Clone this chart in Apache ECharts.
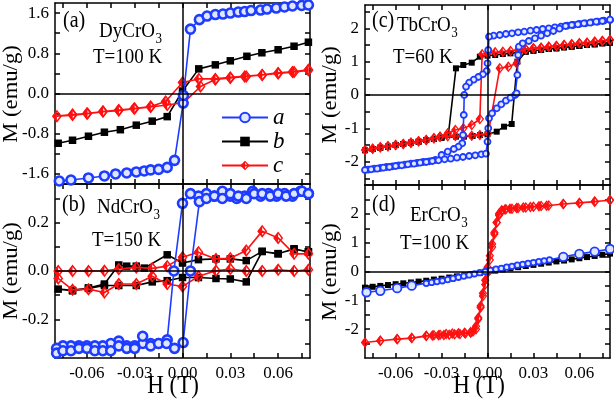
<!DOCTYPE html>
<html><head><meta charset="utf-8">
<script src="https://cdn.jsdelivr.net/npm/echarts@6/dist/echarts.min.js"></script>
<style>html,body{margin:0;padding:0;background:#fff}#c{width:614px;height:401px}</style>
</head><body><div id="c"></div><script>
// ---------------- data (H in T, M in emu/g) ----------------
// Panel (a) DyCrO3, T=100 K
const dyA = [[-0.0773,-1.74],[-0.070,-1.72],[-0.059,-1.68],[-0.049,-1.64],[-0.042,-1.60],[-0.035,-1.58],[-0.029,-1.56],[-0.024,-1.54],[-0.020,-1.52],[-0.015,-1.51],[-0.0096,-1.47],[-0.005,-1.33],[0.0004,-0.19],[0.0006,-0.04],[0.005,1.28],[0.0106,1.47],[0.0154,1.54],[0.0206,1.57],[0.0254,1.58],[0.030,1.60],[0.035,1.62],[0.039,1.63],[0.043,1.65],[0.049,1.66],[0.053,1.68],[0.0588,1.70],[0.064,1.72],[0.069,1.74],[0.0748,1.75],[0.079,1.76]];
const dyB = [[-0.078,-0.99],[-0.069,-0.93],[-0.059,-0.85],[-0.049,-0.77],[-0.039,-0.72],[-0.029,-0.63],[-0.019,-0.55],[-0.0096,-0.46],[0.0,0.05],[0.0102,0.49],[0.0206,0.57],[0.030,0.65],[0.0404,0.74],[0.0498,0.81],[0.060,0.87],[0.070,0.94],[0.079,1.02]];
const dyC = [[0.079,0.47],[0.069,0.43],[0.060,0.41],[0.050,0.37],[0.039,0.34],[0.030,0.32],[0.0206,0.29],[0.0102,0.29],[0.0,0.22],[-0.0106,-0.16],[-0.020,-0.26],[-0.0304,-0.30],[-0.040,-0.34],[-0.0498,-0.36],[-0.0596,-0.40],[-0.069,-0.43],[-0.0788,-0.45],
  [-0.069,-0.42],[-0.060,-0.40],[-0.050,-0.36],[-0.040,-0.33],[-0.030,-0.30],[-0.020,-0.27],[-0.0096,-0.23],[0.0008,-0.18],[0.0113,0.14],[0.0206,0.28],[0.030,0.31],[0.040,0.34],[0.050,0.37],[0.060,0.40],[0.070,0.43],[0.079,0.46]];
// Panel (b) NdCrO3, T=150 K
const ndA = [[0.079,0.32],[0.074,0.33],[0.069,0.31],[0.064,0.32],[0.059,0.31],[0.054,0.32],[0.049,0.31],[0.044,0.33],[0.039,0.31],[0.034,0.30],[0.030,0.31],[0.025,0.33],[0.020,0.31],[0.015,0.32],[0.010,0.31],[0.005,0.32],[0.0,0.28],[-0.0054,0.0],[-0.0096,-0.285],[-0.015,-0.30],[-0.020,-0.30],[-0.025,-0.30],[-0.030,-0.31],[-0.035,-0.31],[-0.040,-0.29],[-0.045,-0.30],[-0.050,-0.31],[-0.055,-0.31],[-0.060,-0.31],[-0.065,-0.31],[-0.070,-0.31],[-0.075,-0.31],[-0.079,-0.32],
  [-0.079,-0.34],[-0.075,-0.33],[-0.070,-0.33],[-0.065,-0.32],[-0.060,-0.32],[-0.055,-0.33],[-0.050,-0.33],[-0.045,-0.33],[-0.040,-0.31],[-0.035,-0.32],[-0.030,-0.32],[-0.025,-0.27],[-0.020,-0.31],[-0.015,-0.30],[-0.010,-0.30],[-0.005,-0.32],[0.0004,-0.296],[0.005,0.0],[0.0106,0.287],[0.015,0.30],[0.020,0.31],[0.025,0.30],[0.030,0.32],[0.035,0.31],[0.040,0.30],[0.045,0.32],[0.050,0.32],[0.055,0.31],[0.060,0.32],[0.065,0.31],[0.070,0.32],[0.075,0.33],[0.079,0.32]];
const ndB = [[0.079,0.078],[0.070,0.092],[0.060,0.071],[0.050,0.081],[0.040,0.043],[0.030,0.05],[0.021,0.05],[0.010,0.047],[0.0,0.033],[-0.0096,0.067],[-0.024,0.012],[-0.029,0.02],[-0.035,0.02],[-0.040,0.025],[-0.049,-0.054],[-0.059,-0.07],[-0.069,-0.08],[-0.078,-0.075],
  [-0.069,-0.082],[-0.059,-0.072],[-0.049,-0.06],[-0.040,-0.06],[-0.029,-0.06],[-0.019,-0.045],[-0.0096,-0.04],[0.0,-0.027],[0.010,-0.027],[0.021,-0.031],[0.030,-0.033],[0.040,-0.045],[0.050,0.081],[0.060,0.072],[0.070,0.09],[0.079,0.08]];
const ndC = [[0.079,0.071],[0.070,0.071],[0.060,0.137],[0.050,0.165],[0.040,0.085],[0.030,0.053],[0.021,0.05],[0.010,0.078],[0.0,0.057],[-0.0096,0.02],[-0.019,0.011],[-0.029,0.015],[-0.040,0.008],[-0.049,0.001],[-0.059,0.0],[-0.069,0.0],[-0.078,0.0],
  [-0.078,-0.031],[-0.069,-0.078],[-0.059,-0.075],[-0.049,-0.089],[-0.040,-0.054],[-0.029,-0.054],[-0.019,-0.022],[-0.0096,-0.054],[0.0,-0.064],[0.010,-0.022],[0.021,0.001],[0.030,0.008],[0.040,0.0],[0.050,0.0],[0.060,0.005],[0.070,0.0],[0.079,0.005]];
// Panel (c) TbCrO3, T=60 K
const tbA = [[0.080,2.25],[0.076,2.23],[0.072,2.20],[0.068,2.18],[0.064,2.15],[0.060,2.13],[0.056,2.10],[0.052,2.08],[0.048,2.05],[0.044,2.03],[0.040,2.00],[0.036,1.98],[0.032,1.95],[0.028,1.93],[0.024,1.90],[0.020,1.88],[0.016,1.85],[0.012,1.83],[0.008,1.80],[0.004,1.78],[0.001,1.75],
  [0.0005,1.35],[0.0,0.95],[-0.0005,0.72],[-0.003,0.62],[-0.006,0.54],[-0.009,0.46],[-0.012,0.37],[-0.014,0.25],[-0.0152,0.0],[-0.0155,-0.6],[-0.016,-1.2],[-0.0165,-1.45],[-0.019,-1.55],[-0.022,-1.62],[-0.026,-1.70],[-0.030,-1.80],[-0.034,-1.95],
  [-0.038,-1.99],[-0.042,-2.01],[-0.046,-2.04],[-0.050,-2.06],[-0.054,-2.09],[-0.058,-2.11],[-0.062,-2.14],[-0.066,-2.16],[-0.070,-2.19],[-0.074,-2.21],[-0.078,-2.24],[-0.080,-2.25],
  [-0.076,-2.23],[-0.072,-2.21],[-0.068,-2.18],[-0.064,-2.16],[-0.060,-2.13],[-0.056,-2.11],[-0.052,-2.08],[-0.048,-2.06],[-0.044,-2.03],[-0.040,-2.01],[-0.036,-1.98],[-0.032,-1.96],[-0.028,-1.93],[-0.024,-1.91],[-0.020,-1.88],[-0.016,-1.86],[-0.012,-1.83],[-0.008,-1.81],[-0.004,-1.78],[-0.001,-1.76],
  [0.0,-1.4],[0.0005,-1.0],[0.001,-0.7],[0.003,-0.55],[0.006,-0.4],[0.009,-0.28],[0.012,-0.17],[0.015,-0.08],[0.018,0.0],[0.019,0.05],[0.0195,0.6],[0.020,1.2],[0.0205,1.45],[0.023,1.55],[0.027,1.62],[0.031,1.70],[0.035,1.78],[0.039,1.85],[0.043,1.92],[0.047,1.99],[0.051,2.07],[0.055,2.10],[0.059,2.12],[0.063,2.15],[0.067,2.17],[0.071,2.20],[0.075,2.22],[0.080,2.26]];
const tbB = [[0.080,1.57],[0.075,1.55],[0.070,1.52],[0.065,1.50],[0.060,1.47],[0.055,1.45],[0.050,1.43],[0.045,1.40],[0.040,1.38],[0.035,1.35],[0.030,1.33],[0.025,1.30],[0.020,1.28],[0.015,1.25],[0.010,1.23],[0.005,1.20],[0.0,1.18],[-0.005,1.15],[-0.0103,0.97],[-0.0158,0.9],[-0.0206,0.8],[-0.0256,-1.2],[-0.030,-1.28],[-0.035,-1.32],[-0.040,-1.35],[-0.045,-1.40],[-0.050,-1.43],[-0.055,-1.47],[-0.060,-1.50],[-0.065,-1.55],[-0.070,-1.58],[-0.075,-1.62],[-0.080,-1.66],
  [-0.075,-1.62],[-0.070,-1.58],[-0.065,-1.55],[-0.060,-1.50],[-0.055,-1.47],[-0.050,-1.43],[-0.045,-1.40],[-0.040,-1.35],[-0.035,-1.32],[-0.030,-1.28],[-0.0206,-1.25],[-0.0154,-1.25],[-0.0097,-1.23],[-0.0049,-1.2],[0.0,-1.18],[0.006,-1.1],[0.0108,-0.95],[0.0158,-0.87],[0.0195,1.0],[0.025,1.3],[0.030,1.33],[0.035,1.35],[0.040,1.38],[0.045,1.40],[0.050,1.43],[0.055,1.45],[0.060,1.47],[0.065,1.50],[0.070,1.52],[0.075,1.55],[0.080,1.57]];
const tbC = [[0.080,1.65],[0.075,1.62],[0.070,1.60],[0.065,1.57],[0.060,1.55],[0.055,1.52],[0.050,1.50],[0.045,1.47],[0.040,1.45],[0.035,1.42],[0.030,1.40],[0.025,1.37],[0.020,1.35],[0.015,1.32],[0.010,1.30],[0.005,1.28],[0.0,1.25],[-0.0035,1.22],[-0.005,-0.72],[-0.0103,-0.9],[-0.0158,-1.0],[-0.021,-1.05],[-0.026,-1.15],[-0.031,-1.25],[-0.035,-1.30],[-0.040,-1.35],[-0.045,-1.39],[-0.050,-1.43],[-0.055,-1.47],[-0.060,-1.50],[-0.065,-1.54],[-0.070,-1.57],[-0.075,-1.61],[-0.080,-1.65],
  [-0.075,-1.61],[-0.070,-1.57],[-0.065,-1.54],[-0.060,-1.50],[-0.055,-1.47],[-0.050,-1.43],[-0.045,-1.39],[-0.040,-1.35],[-0.035,-1.30],[-0.031,-1.25],[-0.026,-1.24],[-0.021,-1.23],[-0.0158,-1.23],[-0.0103,-1.22],[-0.005,-1.2],[0.0005,-1.15],[0.008,0.8],[0.0136,0.85],[0.019,0.95],[0.021,1.3],[0.025,1.37],[0.030,1.40],[0.035,1.42],[0.040,1.45],[0.045,1.47],[0.050,1.50],[0.055,1.52],[0.060,1.55],[0.065,1.57],[0.070,1.60],[0.075,1.62],[0.080,1.65]];
// Panel (d) ErCrO3, T=100 K
const erA = [[-0.079,-0.72],[-0.070,-0.67],[-0.059,-0.58],[-0.0495,-0.49],[-0.040,-0.41],[-0.0365,-0.38],[-0.033,-0.35],[-0.0295,-0.32],[-0.026,-0.28],[-0.0225,-0.24],[-0.019,-0.20],[-0.0155,-0.16],[-0.012,-0.12],[-0.0085,-0.08],[-0.005,-0.04],[-0.0015,0.0],[0.002,0.04],[0.0055,0.08],[0.009,0.11],[0.0125,0.15],[0.016,0.18],[0.0195,0.22],[0.023,0.25],[0.0265,0.28],[0.030,0.31],[0.0335,0.34],[0.037,0.37],[0.0405,0.40],[0.0495,0.51],[0.060,0.61],[0.070,0.69],[0.080,0.78]];
const erB = [[-0.080,-0.56],[-0.075,-0.53],[-0.070,-0.50],[-0.065,-0.47],[-0.060,-0.44],[-0.055,-0.41],[-0.050,-0.38],[-0.045,-0.35],[-0.040,-0.32],[-0.035,-0.28],[-0.030,-0.25],[-0.025,-0.21],[-0.020,-0.17],[-0.015,-0.13],[-0.010,-0.09],[-0.005,-0.05],[0.0,-0.01],[0.005,0.03],[0.010,0.07],[0.015,0.11],[0.020,0.15],[0.025,0.19],[0.030,0.23],[0.035,0.27],[0.040,0.31],[0.045,0.35],[0.050,0.38],[0.055,0.42],[0.060,0.46],[0.065,0.50],[0.070,0.54],[0.075,0.58],[0.080,0.62]];
const erC = [[0.080,2.48],[0.070,2.42],[0.060,2.38],[0.0495,2.34],[0.0386,2.28],[0.0336,2.26],[0.028,2.24],[0.0234,2.22],[0.019,2.20],[0.0147,2.18],[0.0114,2.15],[0.0093,2.12],[0.0075,2.0],[0.006,1.7],[0.0045,1.35],[0.003,0.95],[0.0015,0.55],[0.0,0.15],[-0.0015,-0.3],[-0.003,-0.75],[-0.0045,-1.2],[-0.006,-1.6],[-0.0075,-1.9],[-0.0095,-2.08],[-0.011,-2.12],[-0.0145,-2.15],[-0.018,-2.17],[-0.0215,-2.18],[-0.025,-2.19],[-0.0285,-2.2],[-0.032,-2.21],[-0.036,-2.22],[-0.040,-2.23],[-0.0495,-2.31],[-0.059,-2.34],[-0.070,-2.40],[-0.080,-2.46],
  [-0.070,-2.40],[-0.059,-2.35],[-0.0495,-2.31],[-0.040,-2.24],[-0.035,-2.21],[-0.031,-2.19],[-0.027,-2.17],[-0.023,-2.15],[-0.019,-2.14],[-0.015,-2.12],[-0.011,-2.10],[-0.0075,-2.0],[-0.006,-1.65],[-0.0045,-1.25],[-0.003,-0.85],[-0.0015,-0.45],[0.0,-0.05],[0.0015,0.4],[0.003,0.85],[0.0045,1.3],[0.006,1.7],[0.0075,1.95],[0.0095,2.1],[0.012,2.16],[0.016,2.18],[0.020,2.20],[0.025,2.22],[0.030,2.25],[0.035,2.27],[0.040,2.29],[0.0495,2.34],[0.060,2.38],[0.070,2.43],[0.080,2.47]];

// ---------------- ticks and labels ----------------
const xTicks = [-0.075,-0.06,-0.045,-0.03,-0.015,0,0.015,0.03,0.045,0.06,0.075];
const xLabels = [-0.06,-0.03,0,0.03,0.06];
const yTicksA = [-1.6,-1.2,-0.8,-0.4,0,0.4,0.8,1.2,1.6];
const yLabelsA = [-1.6,-0.8,0,0.8,1.6];
const yTicksB = [-0.3,-0.2,-0.1,0,0.1,0.2,0.3];
const yLabelsB = [-0.2,0,0.2];
const yTicksCD = [-2.5,-2,-1.5,-1,-0.5,0,0.5,1,1.5,2,2.5];
const yLabelsCD = [-2,-1,0,1,2];
const seriesNames = ['a','b','c'];
const compounds = ['DyCrO','NdCrO','TbCrO','ErCrO'];
const temps = ['T=100 K','T=150 K','T=60 K','T=100 K'];
const panelTags = ['(a)','(b)','(c)','(d)'];

// ---------------- layout ----------------
const FONT = '"Liberation Serif","Times New Roman",serif';
const grids = [
  {left:55, top:3, width:255, height:181},
  {left:55, top:184, width:255, height:174},
  {left:365, top:5, width:245, height:180},
  {left:365, top:185, width:245, height:173}
];
const yRanges = [[-1.8,1.8],[-0.36,0.36],[-2.7,2.7],[-3,3]];
const yTickSets = [yTicksA, yTicksB, yTicksCD, yTicksCD];
const yLabelSets = [yLabelsA, yLabelsB, yLabelsCD, yLabelsCD];
const yFmt = [v=>v.toFixed(1), v=>v.toFixed(1), v=>String(Math.round(v)), v=>String(Math.round(v))];

const line = {show:true, onZero:false, lineStyle:{color:'#000', width:1.5}};
function tick(vals){ return {show:true, inside:true, length:5, customValues:vals, lineStyle:{color:'#000', width:1.5}}; }

const xAxis = [], yAxis = [];
grids.forEach((g,i)=>{
  const showX = (i===1||i===3);
  xAxis.push({type:'value', gridIndex:i, position:'bottom', min:-0.08, max:0.08, axisLine:line, axisTick:tick(xTicks), splitLine:{show:false},
    axisLabel:{show:showX, customValues:xLabels, formatter:v=>v.toFixed(2), fontFamily:FONT, fontSize:17, color:'#000', margin:7}});
  yAxis.push({type:'value', gridIndex:i, position:'left', min:yRanges[i][0], max:yRanges[i][1], axisLine:line, axisTick:tick(yTickSets[i]), splitLine:{show:false},
    axisLabel:{show:true, customValues:yLabelSets[i], formatter:yFmt[i], fontFamily:FONT, fontSize:17, color:'#000', margin:6}});
});
grids.forEach((g,i)=>{
  xAxis.push({type:'value', gridIndex:i, position:'top', min:-0.08, max:0.08, axisLine:line, axisTick:tick(xTicks), axisLabel:{show:false}, splitLine:{show:false}});
  yAxis.push({type:'value', gridIndex:i, position:'right', min:yRanges[i][0], max:yRanges[i][1], axisLine:line, axisTick:tick(yTickSets[i]), axisLabel:{show:false}, splitLine:{show:false}});
});

const BLUE = '#1e3cff', RED = '#ff1010';
const diamondPath = 'path://M5 0L10 6L5 12L0 6ZM5 2.2L1.8 6L5 9.8L8.2 6ZM5 2.2L5 9.8L1.8 6Z';
function mk(){
  return {silent:true, symbol:['none','none'], label:{show:false}, animation:false,
    lineStyle:{color:'#000', width:1.5, type:'solid'}, emphasis:{disabled:true}, data:[{yAxis:0},{xAxis:0}]};
}
const panelData = [[dyA,dyB,dyC],[ndA,ndB,ndC],[tbA,tbB,tbC],[erA,erB,erC]];
const series = [];
panelData.forEach((pd,i)=>{
  const small = i>=2;
  series.push({name:'b', type:'line', xAxisIndex:i, yAxisIndex:i, data:pd[1], symbol:'rect', symbolSize: small?6:7.5,
    itemStyle:{color:'#000'}, lineStyle:{color:'#000', width:1.6}, markLine:mk(), emphasis:{disabled:true}, z:2});
  series.push({name:'c', type:'line', xAxisIndex:i, yAxisIndex:i, data:pd[2], symbol:diamondPath, symbolSize: small?[8.5,11]:[10,13],
    itemStyle:{color:RED}, lineStyle:{color:RED, width:1.6}, emphasis:{disabled:true}, z:3});
  series.push({name:'a', type:'line', xAxisIndex:i, yAxisIndex:i, data:pd[0], symbol:'circle',
    symbolSize: i===3 ? (v=>Math.abs(v[0])>0.042?8.5:5.5) : (small?6:9),
    itemStyle:{color:'#dfe6ff', borderColor:BLUE, borderWidth: small?1.8:2.6}, lineStyle:{color:BLUE, width:1.6}, emphasis:{disabled:true}, z:4});
});

// measure text width so the subscript follows the formula
const mctx = document.createElement('canvas').getContext('2d');
function tw(s, size){ mctx.font = size+'px '+FONT; return mctx.measureText(s).width; }

const SY = 1.15; // reference text is slightly taller than wide
function txt(x,y,s,size){
  return {type:'text', x:x, y:y, scaleY:SY, silent:true, z:100,
    style:{text:s, font: size+'px '+FONT, fill:'#000', align:'left', verticalAlign:'middle', textAlign:'left', textVerticalAlign:'middle'}};
}
const tagPos = [[63,21],[62,205],[372,21],[372,205]];
const cmpPos = [[99,31],[97,207],[397,25],[410,215]];
const tPos = [[93,57],[92,240],[393,57],[400,243]];
const graphic = [];
for (let i=0;i<4;i++){
  graphic.push(txt(tagPos[i][0], tagPos[i][1], panelTags[i], 20));
  graphic.push(txt(cmpPos[i][0], cmpPos[i][1], compounds[i], 19));
  graphic.push(txt(cmpPos[i][0]+tw(compounds[i],19)+0.5, cmpPos[i][1]+8, '3', 13));
  graphic.push(txt(tPos[i][0], tPos[i][1], temps[i], 19));
}
[[11,94],[11,271],[330,95],[330,272]].forEach(p=>{
  graphic.push({type:'text', x:p[0], y:p[1], rotation:Math.PI/2, scaleX:1.08, silent:true, z:100,
    style:{text:'M (emu/g)', font:'21px '+FONT, fill:'#000', align:'center', verticalAlign:'middle', textAlign:'center', textVerticalAlign:'middle'}});
});
[[173,386],[479,386]].forEach(p=>{
  graphic.push({type:'text', x:p[0], y:p[1], scaleY:1.08, silent:true, z:100,
    style:{text:'H (T)', font:'23px '+FONT, fill:'#000', align:'center', verticalAlign:'middle', textAlign:'center', textVerticalAlign:'middle'}});
});

const chart = echarts.init(document.getElementById('c'));
chart.setOption({
  animation:false,
  backgroundColor:'#fff',
  grid: grids,
  xAxis: xAxis,
  yAxis: yAxis,
  legend: {data:seriesNames, orient:'vertical', left:216, top:101, itemWidth:46, itemHeight:12, itemGap:1,
    textStyle:{fontFamily:FONT, fontStyle:'italic', fontSize:23, lineHeight:23, color:'#000'}, selectedMode:false},
  series: series,
  graphic: graphic
});
</script></body></html>
